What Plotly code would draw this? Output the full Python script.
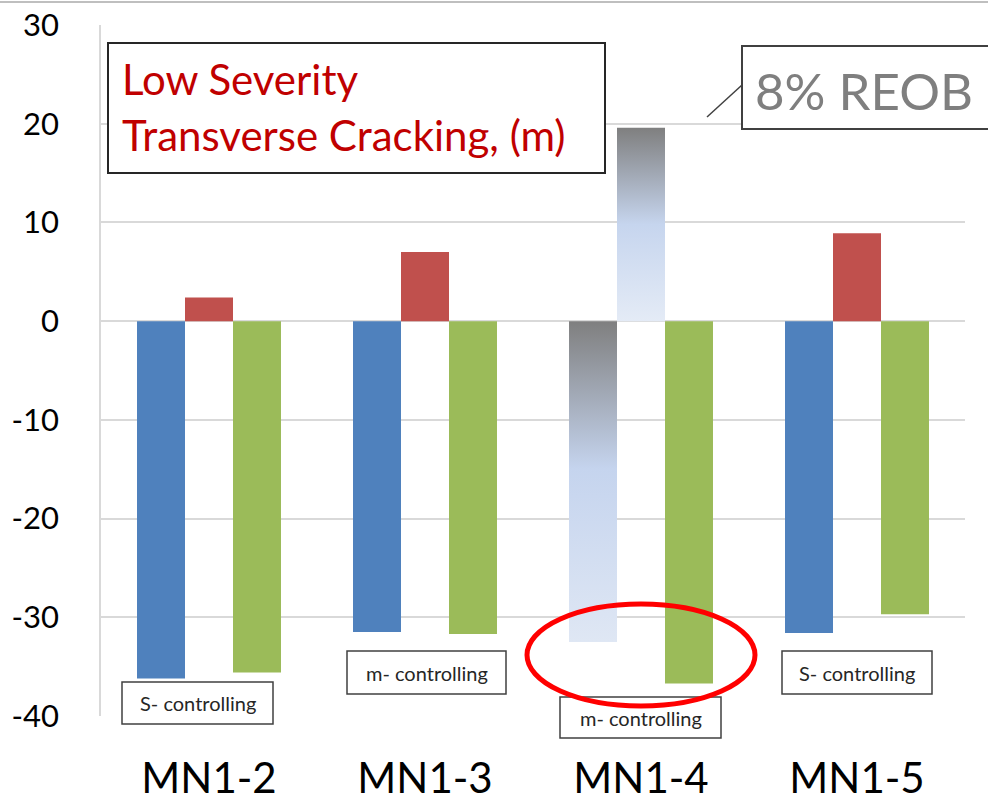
import plotly.graph_objects as go

# ---- data -------------------------------------------------------------
categories = ["MN1-2", "MN1-3", "MN1-4", "MN1-5"]
bars_left = [-36.2, -31.5, -32.5, -31.6]   # blue series
bars_mid = [2.4, 7.0, 19.6, 8.9]           # red series
bars_right = [-35.6, -31.7, -36.7, -29.7]  # green series
y_ticks = [-40, -30, -20, -10, 0, 10, 20, 30]
y_tick_labels = [str(v) for v in y_ticks]

highlight = "MN1-4"          # group drawn with gradient fills
box_notes = ["S- controlling", "m- controlling", "m- controlling", "S- controlling"]

# ---- styling ----------------------------------------------------------
BLUE, RED, GREEN = "#4F81BD", "#C0504D", "#9BBB59"
GRID = "#D9D9D9"
FONT = "Lato"
BAR_W = 0.2222
OFFSETS = [-0.3333, -0.1111, 0.1111]

W, H = 988, 802
L, R, T, B = 101, 23, 25, 86
PW, PH = W - L - R, H - T - B


def px(x):
    return (x - L) / PW


def py(y):
    return (H - B - y) / PH


xs = list(range(len(categories)))
hi = categories.index(highlight)
clear = "rgba(0,0,0,0)"

fig = go.Figure()
for vals, color, off in zip([bars_left, bars_mid, bars_right], [BLUE, RED, GREEN], OFFSETS):
    colors = [color] * len(vals)
    if color != GREEN:
        colors[hi] = clear
    fig.add_trace(go.Bar(
        x=xs, y=vals, width=BAR_W, offset=off,
        marker=dict(color=colors, line=dict(width=0)),
        showlegend=False, hoverinfo="y",
    ))

# gradient-filled bars for the highlighted group
grad_specs = [
    (bars_left[hi], OFFSETS[0], [[0, "#DFE7F4"], [0.54, "#C5D4EE"], [1, "#7F7F7F"]]),
    (bars_mid[hi], OFFSETS[1], [[0, "#E4EBF6"], [0.5, "#C6D5EE"], [1, "#7F7F7F"]]),
]
for v, off, cs in grad_specs:
    x0, x1 = hi + off, hi + off + BAR_W
    fig.add_trace(go.Scatter(
        x=[x0, x1, x1, x0, x0], y=[0, 0, v, v, 0],
        mode="lines", line=dict(width=0), fill="toself",
        fillgradient=dict(type="vertical", start=min(0, v), stop=max(0, v), colorscale=cs),
        showlegend=False, hoverinfo="skip",
    ))

shapes = []
annotations = []

# outer top rule
shapes.append(dict(type="line", xref="paper", yref="paper",
                   x0=px(0), x1=px(W), y0=py(2), y1=py(2),
                   line=dict(color="#BFBFBF", width=2)))

# title box
shapes.append(dict(type="rect", xref="paper", yref="paper",
                   x0=px(108), x1=px(605), y0=py(43), y1=py(173),
                   fillcolor="white", line=dict(color="#262626", width=2), layer="above"))
for txt, yc in [("Low Severity", 79), ("Transverse Cracking, (m)", 135)]:
    annotations.append(dict(xref="paper", yref="paper", x=px(120), y=py(yc),
                            xanchor="left", yanchor="middle", showarrow=False, text=txt,
                            font=dict(family=FONT, size=42, color="#C00000")))

# callout for the highlighted series
shapes.append(dict(type="line", xref="paper", yref="paper",
                   x0=px(707), x1=px(742), y0=py(117), y1=py(85),
                   line=dict(color="#404040", width=1.5), layer="above"))
shapes.append(dict(type="rect", xref="paper", yref="paper",
                   x0=px(742), x1=px(1000), y0=py(46), y1=py(129),
                   fillcolor="white", line=dict(color="#404040", width=2), layer="above"))
annotations.append(dict(xref="paper", yref="paper", x=px(753), y=py(90),
                        xanchor="left", yanchor="middle", showarrow=False, text="8% REOB",
                        font=dict(family=FONT, size=51, color="#7F7F7F")))

# note boxes under each group
note_boxes = [(122, 273, 682, 724), (347, 506, 651, 694), (560, 721, 697, 738), (782, 932, 651, 694)]
for txt, (bx0, bx1, by0, by1) in zip(box_notes, note_boxes):
    shapes.append(dict(type="rect", xref="paper", yref="paper",
                       x0=px(bx0), x1=px(bx1), y0=py(by0), y1=py(by1),
                       fillcolor="white", line=dict(color="#404040", width=1.5), layer="above"))
    annotations.append(dict(xref="paper", yref="paper", x=px((bx0 + bx1) / 2), y=py((by0 + by1) / 2),
                            xanchor="center", yanchor="middle", showarrow=False, text=txt,
                            font=dict(family=FONT, size=20, color="#262626")))

# red ring around the highlighted group
shapes.append(dict(type="circle", xref="paper", yref="paper",
                   x0=px(527), x1=px(755), y0=py(604), y1=py(706),
                   line=dict(color="#FF0000", width=5), layer="above"))

fig.update_layout(
    width=W, height=H,
    margin=dict(l=L, r=R, t=T, b=B, autoexpand=False),
    paper_bgcolor="white", plot_bgcolor="white",
    barmode="overlay",
    shapes=shapes, annotations=annotations,
    xaxis=dict(range=[-0.5, len(categories) - 0.5], tickvals=xs, ticktext=categories,
               showgrid=False, zeroline=False, showline=False, ticks="",
               automargin=False, ticklabelstandoff=34,
               tickfont=dict(family=FONT, size=42, color="black")),
    yaxis=dict(range=[y_ticks[0], y_ticks[-1]], tickvals=y_ticks, ticktext=y_tick_labels,
               showgrid=True, gridcolor=GRID, gridwidth=1.5,
               zeroline=False, showline=True, linecolor=GRID, linewidth=1.5,
               ticks="", automargin=False, ticklabelstandoff=34,
               tickfont=dict(family=FONT, size=31, color="black")),
)

fig.write_html("out.html")
